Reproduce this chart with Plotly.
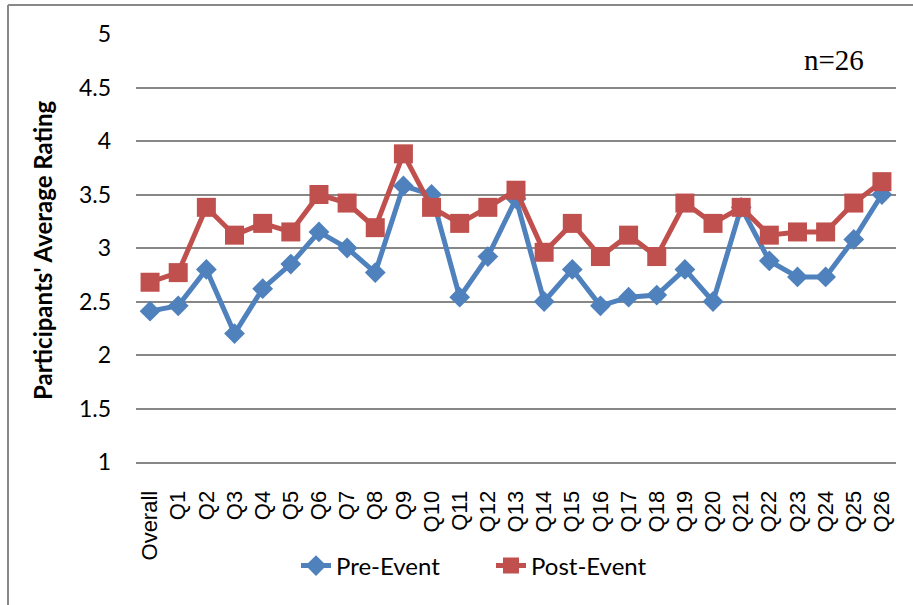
import plotly.graph_objects as go

categories = ["Overall"] + [f"Q{i}" for i in range(1, 27)]
pre_event = [2.41, 2.46, 2.80, 2.20, 2.62, 2.85, 3.15, 3.00, 2.77, 3.58,
             3.50, 2.54, 2.92, 3.46, 2.50, 2.80, 2.46, 2.54, 2.56, 2.80,
             2.50, 3.38, 2.88, 2.73, 2.73, 3.08, 3.50]
post_event = [2.68, 2.77, 3.38, 3.12, 3.23, 3.15, 3.50, 3.42, 3.19, 3.88,
              3.38, 3.23, 3.38, 3.54, 2.96, 3.23, 2.92, 3.12, 2.92, 3.42,
              3.23, 3.38, 3.12, 3.15, 3.15, 3.42, 3.62]
y_ticks = [1, 1.5, 2, 2.5, 3, 3.5, 4, 4.5, 5]

W, H = 913, 605
L, R, T, B = 136, 17, 34, 143
pw, ph = W - L - R, H - T - B

def px(x):
    return (x - L) / pw

def py(y):
    return (H - B - y) / ph

fig = go.Figure()
fig.add_trace(go.Scatter(
    x=categories, y=pre_event, name="Pre-Event", mode="lines+markers",
    line=dict(color="#4F81BD", width=5),
    marker=dict(symbol="diamond", size=16, color="#4F81BD"),
))
fig.add_trace(go.Scatter(
    x=categories, y=post_event, name="Post-Event", mode="lines+markers",
    line=dict(color="#C0504D", width=5),
    marker=dict(symbol="square", size=19, color="#C0504D"),
))

fig.update_layout(
    width=W, height=H,
    margin=dict(l=L, r=R, t=T, b=B),
    paper_bgcolor="white", plot_bgcolor="white",
    showlegend=True,
    legend=dict(orientation="h", x=px(296), xanchor="left",
                y=py(566), yanchor="middle",
                font=dict(family="Lato", size=24, color="black"),
                entrywidth=150, entrywidthmode="pixels",
                bgcolor="rgba(0,0,0,0)"),
    xaxis=dict(
        type="category", range=[-0.5, 26.5],
        tickangle=-90, showgrid=False,
        showline=True, linecolor="#878787", linewidth=2,
        ticks="", ticklabelstandoff=18,
        tickfont=dict(family="Liberation Sans", size=22, color="black"),
    ),
    yaxis=dict(
        range=[1, 5], tickvals=y_ticks,
        ticktext=[f"{v:g}" for v in y_ticks],
        showgrid=True, gridcolor="#878787", gridwidth=1.8,
        zeroline=False, showline=False, ticks="",
        ticklabelstandoff=24,
        tickfont=dict(family="Lato", size=23, color="black"),
    ),
    shapes=[
        # outer chart border (left and top)
        dict(type="line", xref="paper", yref="paper",
             x0=px(8), x1=px(8), y0=py(5), y1=py(610),
             line=dict(color="#888888", width=2)),
        dict(type="line", xref="paper", yref="paper",
             x0=px(8), x1=px(915), y0=py(5), y1=py(5),
             line=dict(color="#888888", width=2)),
        # white text box behind n=26
        dict(type="rect", xref="paper", yref="paper",
             x0=px(774), x1=px(894), y0=py(28), y1=py(80),
             fillcolor="white", line=dict(width=0), layer="above"),
    ],
    annotations=[
        dict(text="n=26", xref="paper", yref="paper",
             x=px(866), y=py(60), xanchor="right", yanchor="middle",
             showarrow=False,
             font=dict(family="Liberation Serif", size=29, color="black")),
        dict(text="<b>Participants' Average Rating</b>", xref="paper", yref="paper",
             x=px(42), y=py(250), xanchor="center", yanchor="middle",
             textangle=-90, showarrow=False,
             font=dict(family="Lato", size=24, color="black")),
    ],
)

fig.write_html("out.html",
               config={"displayModeBar": False},
               post_script="document.body.style.margin='0';document.body.style.overflow='hidden';")
